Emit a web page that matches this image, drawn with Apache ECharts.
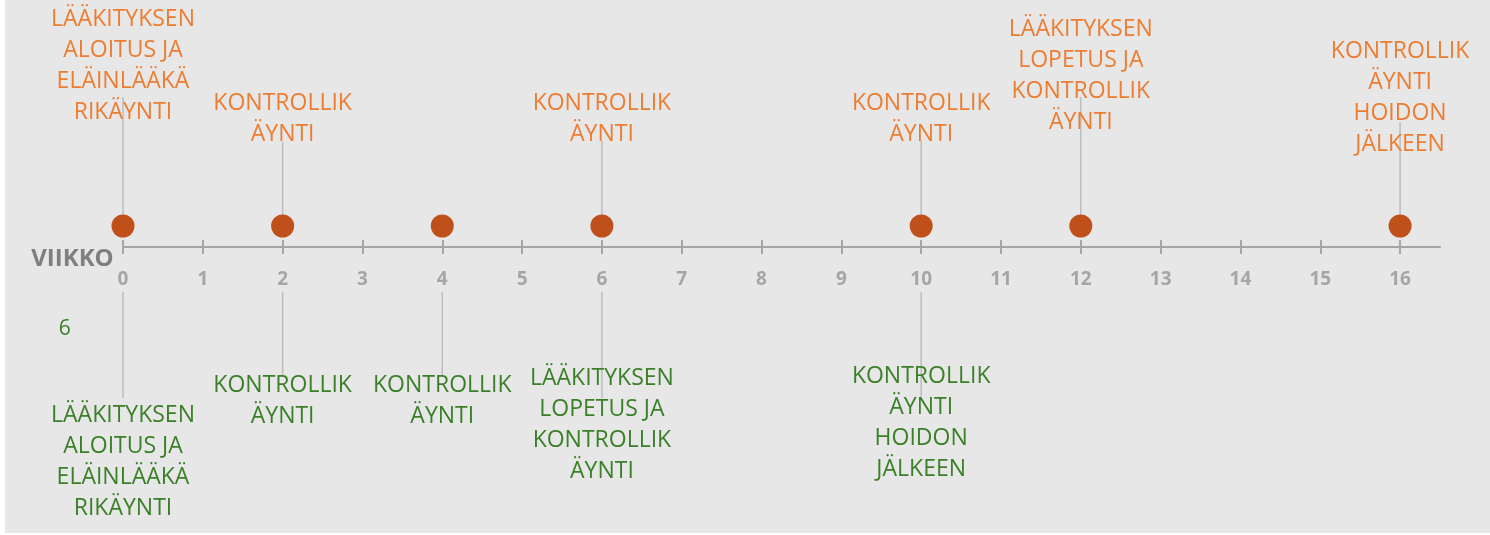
<!DOCTYPE html>
<html>
<head>
<meta charset="utf-8">
<script src="https://cdn.jsdelivr.net/npm/echarts@6/dist/echarts.min.js"></script>
<style>
  html, body { margin: 0; padding: 0; background: #ffffff; }
  #chart { position: absolute; left: 5px; top: 0; width: 1485px; height: 533px; background: #e7e7e7; }
</style>
</head>
<body>
<div id="chart"></div>
<script>
// ---- data ----
const weekTicks = [0,1,2,3,4,5,6,7,8,9,10,11,12,13,14,15,16];
const axisName = 'VIIKKO';

// visit markers on the timeline
const visitWeeks = [0, 2, 4, 6, 10, 12, 16];
const visitHeight = [2.1, 2.1, 2.1, 2.1, 2.1, 2.1, 2.1];

// upper (orange) labels
const upperWeeks = [0, 2, 6, 10, 12, 16];
const upperTexts = [
  'LÄÄKITYKSEN\nALOITUS JA\nELÄINLÄÄKÄ\nRIKÄYNTI',
  'KONTROLLIK\nÄYNTI',
  'KONTROLLIK\nÄYNTI',
  'KONTROLLIK\nÄYNTI',
  'LÄÄKITYKSEN\nLOPETUS JA\nKONTROLLIK\nÄYNTI',
  'KONTROLLIK\nÄYNTI\nHOIDON\nJÄLKEEN'
];
const upperLabelY = [18.1, 12.85, 12.85, 12.85, 17.1, 14.9];
const upperLineTop = [15.0, 10.5, 10.6, 10.7, 15.0, 12.5];

// lower (green) labels
const lowerWeeks = [0, 2, 4, 6, 10];
const lowerTexts = [
  'LÄÄKITYKSEN\nALOITUS JA\nELÄINLÄÄKÄ\nRIKÄYNTI',
  'KONTROLLIK\nÄYNTI',
  'KONTROLLIK\nÄYNTI',
  'LÄÄKITYKSEN\nLOPETUS JA\nKONTROLLIK\nÄYNTI',
  'KONTROLLIK\nÄYNTI\nHOIDON\nJÄLKEEN'
];
const lowerLabelY = [-21.5, -15.35, -15.35, -17.75, -17.6];
const lowerLineStart = [-4.5, -4.5, -4.5, -4.5, -4.5];
const lowerLineEnd = [-15.1, -13.0, -12.9, -15.1, -15.0];

// stray label
const strayText = ['6'];
const strayPos = [[-0.73, -8.2]];

// ---- build ----
const orange = '#ed7d31';
const green = '#3b8029';
const leaderColor = '#bdbdbd';
const font = '"Open Sans", "Noto Sans", sans-serif';

const leaderData = [];
upperWeeks.forEach((w, i) => {
  const h = visitHeight[visitWeeks.indexOf(w)];
  leaderData.push([w, h, upperLineTop[i]]);
});
lowerWeeks.forEach((w, i) => leaderData.push([w, lowerLineStart[i], lowerLineEnd[i]]));

const chart = echarts.init(document.getElementById('chart'), null, { renderer: 'canvas' });

const GRID_TOP = 7, GRID_BOTTOM = 286;
const plotHeight = 533 - GRID_TOP - GRID_BOTTOM;
const tickCommon = { customValues: weekTicks, length: 7, lineStyle: { color: '#a6a6a6', width: 2 } };

function labelSeries(weeks, ys, texts, color, size) {
  return {
    type: 'scatter', silent: true, z: 4, symbolSize: 0, clip: false,
    itemStyle: { opacity: 1 },
    data: weeks.map((w, i) => ({ value: [w, ys[i]], name: texts[i] })),
    label: {
      show: true, position: 'inside', formatter: '{b}', align: 'center', verticalAlign: 'middle',
      color: color, fontSize: size, lineHeight: 31, fontFamily: font
    }
  };
}

chart.setOption({
  animation: false,
  grid: { left: 118, right: 50, top: GRID_TOP, bottom: GRID_BOTTOM, outerBoundsMode: 'none', containLabel: false },
  xAxis: [
    {
      type: 'value', min: 0, max: 16.5, interval: 1, position: 'bottom',
      axisLine: { show: true, onZero: false, lineStyle: { color: '#a6a6a6', width: 2 } },
      axisTick: Object.assign({ show: true }, tickCommon),
      axisLabel: {
        show: true, margin: 23,
        formatter: function (v) { return weekTicks.indexOf(v) >= 0 ? String(v) : ''; },
        color: '#a6a6a6', fontWeight: 'bold', fontSize: 19, fontFamily: font
      },
      splitLine: { show: false },
      name: axisName, nameLocation: 'start', nameGap: 7,
      nameTextStyle: { color: '#7f7f7f', fontWeight: 'bold', fontSize: 24, fontFamily: font, verticalAlign: 'top' }
    },
    {
      type: 'value', min: 0, max: 16.5, interval: 1, position: 'top', offset: -plotHeight,
      axisLine: { show: false, onZero: false },
      axisTick: Object.assign({ show: true }, tickCommon),
      axisLabel: { show: false },
      splitLine: { show: false }
    }
  ],
  yAxis: { type: 'value', min: 0, max: 24, show: false, splitLine: { show: false } },
  series: [
    {
      type: 'custom', silent: true, z: 1, clip: false,
      data: leaderData,
      renderItem: function (params, api) {
        const p1 = api.coord([api.value(0), api.value(1)]);
        const p2 = api.coord([api.value(0), api.value(2)]);
        return {
          type: 'line',
          shape: { x1: p1[0], y1: p1[1], x2: p2[0], y2: p2[1] },
          style: { stroke: leaderColor, lineWidth: 1.5 }
        };
      }
    },
    {
      type: 'scatter', silent: true, z: 3, clip: false,
      symbol: 'circle', symbolSize: 23,
      itemStyle: { color: '#c0501a', opacity: 1 },
      data: visitWeeks.map((w, i) => [w, visitHeight[i]])
    },
    labelSeries(upperWeeks, upperLabelY, upperTexts, orange, 23),
    labelSeries(lowerWeeks, lowerLabelY, lowerTexts, green, 23),
    labelSeries(strayPos.map(p => p[0]), strayPos.map(p => p[1]), strayText, green, 21)
  ]
});
</script>
</body>
</html>
